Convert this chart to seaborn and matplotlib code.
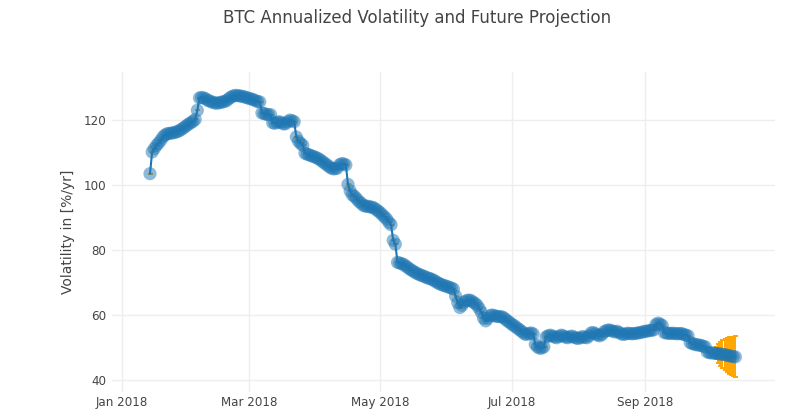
import matplotlib
matplotlib.use('Agg')
import matplotlib.pyplot as plt
import pandas as pd
import seaborn as sns

# Daily annualized volatility, starting 2018-01-14
start_date = '2018-01-14'
volatility = [
    103.5, 110.2, 111.2, 112.2, 112.9, 113.8, 114.8, 115.4, 115.8, 115.9,
    116.0, 116.1, 116.3, 116.5, 116.9, 117.3, 117.8, 118.3, 118.8, 119.2,
    119.6, 120.2, 123.0, 126.8,
    127.0, 126.8, 126.5, 126.0, 125.8, 125.5, 125.3, 125.2, 125.3, 125.5,
    125.6, 125.8, 126.2, 126.8, 127.2, 127.5, 127.6, 127.5, 127.4, 127.3,
    127.1, 126.9,
    126.7, 126.5, 126.3, 126.0, 125.7, 125.6,
    122.2, 122.0, 121.8, 121.6, 121.7, 119.2, 119.0, 119.3, 119.5, 119.2,
    118.8, 118.9, 119.5, 120.0, 119.8, 119.5,
    114.8, 113.5, 112.8, 112.2, 109.8, 109.5, 109.3, 109.0, 108.8, 108.5,
    108.2, 107.8, 107.3, 106.8, 106.3, 105.8, 105.3, 105.0,
    105.0, 105.2, 106.2, 106.6, 106.5, 106.2,
    100.2, 98.2, 97.0, 96.5, 95.8, 95.0, 94.5, 93.8, 93.5, 93.5,
    93.3, 93.2, 93.0, 92.5, 92.0, 91.5, 90.8, 90.2, 89.5, 88.5, 87.8,
    83.0, 81.8, 76.2, 76.0, 75.8, 75.5, 75.0, 74.5, 74.0, 73.6,
    73.2, 72.8, 72.5, 72.2, 72.0, 71.7, 71.4,
    71.2, 71.0, 70.6, 70.2, 69.8, 69.5, 69.2, 69.0, 68.8, 68.5, 68.3, 68.0,
    65.8, 63.8, 62.3, 63.0, 64.0, 64.4, 64.6, 64.5, 64.0, 63.6,
    63.0, 62.0, 60.8, 59.0, 58.2, 59.0, 59.8, 60.0, 59.8, 59.6,
    59.5, 59.5, 59.3, 58.8, 58.2, 57.8, 57.2, 56.8, 56.3, 55.8,
    55.3, 54.8, 54.2,
    54.0, 54.3, 54.5, 54.2, 51.0, 50.2, 49.8, 49.8, 50.2,
    53.2, 53.6, 53.8, 53.5, 53.2, 53.0, 53.4, 53.8, 53.6, 53.2,
    53.0, 53.3, 53.5, 53.2, 52.9, 52.8, 53.0, 53.4, 53.1, 53.0,
    53.6, 54.5, 54.6, 54.2, 53.8, 53.6, 54.0, 54.8, 55.2, 55.4,
    55.3, 55.0, 54.8, 55.0, 54.6, 54.2, 54.0, 54.2, 54.4, 54.3,
    54.2, 54.3, 54.4, 54.5, 54.6, 54.8, 55.0, 55.0, 55.2, 55.3, 55.4,
    57.0, 57.5, 57.2, 56.8, 54.6, 54.4, 54.4, 54.3, 54.4, 54.3,
    54.2, 54.3, 54.3, 54.0, 53.8, 53.6,
    51.5, 51.2, 51.0, 50.8, 50.8, 50.6, 50.4, 50.2,
    48.6, 48.4, 48.3, 48.3, 48.2, 48.1, 48.0, 47.9, 47.8, 47.6,
    47.5, 47.3, 47.2, 47.1,
]
# projection uncertainty on the last days
proj_err = [1.8, 2.9, 3.7, 4.3, 4.8, 5.2, 5.6, 5.9, 6.1, 6.3]

tick_dates = ['2018-01-01', '2018-03-01', '2018-05-01', '2018-07-01', '2018-09-01']
tick_labels = ['Jan 2018', 'Mar 2018', 'May 2018', 'Jul 2018', 'Sep 2018']
y_ticks = [40, 60, 80, 100, 120]

dates = pd.date_range(start_date, periods=len(volatility), freq='D')
errors = [0.0] * (len(volatility) - len(proj_err)) + proj_err
df = pd.DataFrame({'date': dates, 'vol': volatility, 'err': errors})

sns.set_theme(style='white')
plt.rcParams['font.family'] = ['DejaVu Sans']

fig = plt.figure(figsize=(8.08, 4.2), dpi=100)
ax = fig.add_axes([112 / 808, 1 - 392 / 420, 663 / 808, 320 / 420])

# error bars (orange), then the line, then translucent markers on top
ax.errorbar(df['date'], df['vol'], yerr=df['err'], fmt='none', ecolor='orange',
            elinewidth=1.4, capsize=1.8, capthick=1.4, zorder=1)
sns.lineplot(data=df, x='date', y='vol', color='#1f77b4', lw=1.5, ax=ax, zorder=2)
sns.scatterplot(data=df, x='date', y='vol', color='#1f77b4', s=90, alpha=0.5,
                edgecolor='none', ax=ax, zorder=3)

ax.set_xlim(pd.Timestamp('2018-01-01') - pd.Timedelta(days=4.65),
            pd.Timestamp('2018-01-01') + pd.Timedelta(days=303.4))
ax.set_ylim(36.3, 134.8)

ax.set_xticks(pd.to_datetime(tick_dates))
ax.set_xticklabels(tick_labels)
ax.set_yticks(y_ticks)

ax.grid(True, color='#eeeeee', lw=1)
for s in ax.spines.values():
    s.set_visible(False)
ax.tick_params(axis='both', length=0, labelsize=8.6, colors='#444444')
ax.tick_params(axis='x', pad=3)
ax.tick_params(axis='y', pad=4)

ax.set_xlabel('')
ax.set_ylabel('Volatility in [%/yr]', fontsize=10, color='#444444')
ax.yaxis.label.set_va('center')
ax.yaxis.set_label_coords((68 - 112) / 663, 0.5)

fig.text(417 / 808, 1 - 18 / 420, 'BTC Annualized Volatility and Future Projection',
         ha='center', va='center', fontsize=12, color='#444444')

plt.savefig('out.png', dpi=100)
